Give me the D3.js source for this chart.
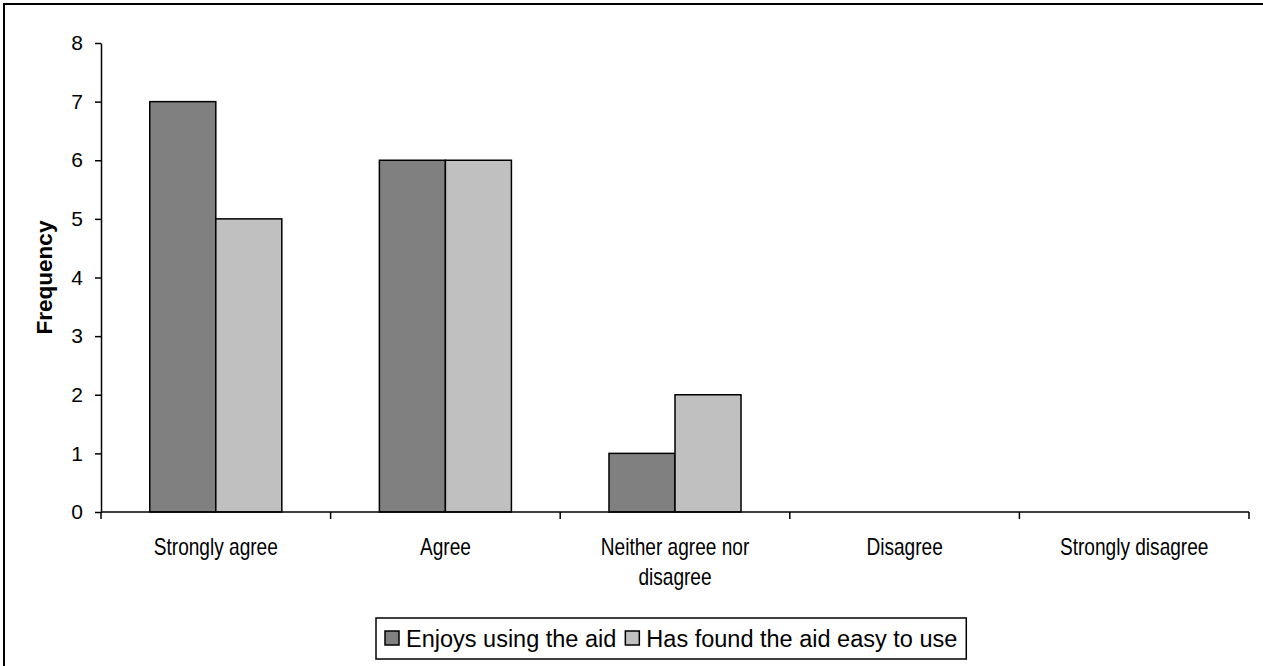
<!DOCTYPE html>
<html>
<head>
<meta charset="utf-8">
<script src="https://cdn.jsdelivr.net/npm/d3@7"></script>
<style>
  html, body { margin: 0; padding: 0; background: #fff; }
  svg { display: block; font-family: Arial, "Liberation Sans", sans-serif; }
</style>
</head>
<body>
<svg id="chart" width="1263" height="666"></svg>
<script>
const categories = ["Strongly agree", "Agree", "Neither agree nor disagree", "Disagree", "Strongly disagree"];
const categoryLines = [["Strongly agree"], ["Agree"], ["Neither agree nor", "disagree"], ["Disagree"], ["Strongly disagree"]];
const seriesNames = ["Enjoys using the aid", "Has found the aid easy to use"];
const enjoys = [7, 6, 1, 0, 0];
const easy = [5, 6, 2, 0, 0];
const yTicks = [0, 1, 2, 3, 4, 5, 6, 7, 8];
const seriesColors = ["#808080", "#C0C0C0"];

const svg = d3.select("#chart");

// outer frame (right/bottom edges fall outside the picture)
svg.append("rect").attr("x", 4).attr("y", 4).attr("width", 1320).attr("height", 720)
  .attr("fill", "none").attr("stroke", "#000").attr("stroke-width", 2);

const plotLeft = 101, plotRight = 1249, plotTop = 43, plotBottom = 512;

const x = d3.scaleBand().domain(categories).range([plotLeft, plotRight]).padding(0);
const x1 = d3.scaleBand().domain(seriesNames).range([0, x.bandwidth()]).paddingInner(0).paddingOuter(0.739);
const y = d3.scaleLinear().domain([0, 8]).range([plotBottom, plotTop]);

const values = [enjoys, easy];

// bars
seriesNames.forEach((s, si) => {
  svg.append("g").selectAll("rect")
    .data(categories.map((c, i) => ({ c, v: values[si][i] })).filter(d => d.v > 0))
    .join("rect")
    .attr("x", d => x(d.c) + x1(s))
    .attr("y", d => y(d.v))
    .attr("width", x1.bandwidth())
    .attr("height", d => y(0) - y(d.v))
    .attr("fill", seriesColors[si])
    .attr("stroke", "#000")
    .attr("stroke-width", 1.5);
});

// y axis
const yAxis = svg.append("g").attr("transform", `translate(${plotLeft},0)`)
  .call(d3.axisLeft(y).tickValues(yTicks).tickSize(6).tickSizeOuter(0).tickPadding(12).tickFormat(d3.format("d")));
yAxis.select(".domain").attr("stroke", "#000").attr("stroke-width", 1.5);
yAxis.selectAll(".tick line").attr("stroke", "#000").attr("stroke-width", 1.5);
yAxis.selectAll(".tick text").attr("font-size", 21).attr("fill", "#000")
  .attr("font-family", "Arial, 'Liberation Sans', sans-serif");

// x axis line and boundary ticks
const boundaries = categories.map(c => x(c)).concat([x(categories[categories.length - 1]) + x.bandwidth()]);
svg.append("line").attr("x1", plotLeft).attr("x2", plotRight).attr("y1", y(0)).attr("y2", y(0))
  .attr("stroke", "#000").attr("stroke-width", 1.5);
svg.append("g").selectAll("line").data(boundaries).join("line")
  .attr("x1", d => d).attr("x2", d => d).attr("y1", y(0)).attr("y2", y(0) + 7)
  .attr("stroke", "#000").attr("stroke-width", 1.5);

// x labels (narrow appearance)
const xl = svg.append("g").selectAll("g").data(categories).join("g")
  .attr("transform", d => `translate(${x(d) + x.bandwidth() / 2},555) scale(0.83,1)`);
xl.each(function (d, i) {
  d3.select(this).selectAll("text").data(categoryLines[i]).join("text")
    .attr("x", 0).attr("y", (t, j) => j * 30)
    .attr("text-anchor", "middle").attr("font-size", 23).attr("fill", "#000")
    .text(t => t);
});

// y title
svg.append("text")
  .attr("transform", `translate(52,${(plotTop + plotBottom) / 2}) rotate(-90)`)
  .attr("text-anchor", "middle").attr("font-size", 22.5).attr("font-weight", "bold")
  .attr("fill", "#000").text("Frequency");

// legend
const legend = svg.append("g");
let cx = 385;
const items = legend.selectAll("g").data(seriesNames).join("g");
items.each(function (s, i) {
  const g = d3.select(this);
  g.append("rect").attr("x", cx).attr("y", 631).attr("width", 14).attr("height", 14)
    .attr("fill", seriesColors[i]).attr("stroke", "#000").attr("stroke-width", 1.5);
  const t = g.append("text").attr("x", cx + 21).attr("y", 647).attr("font-size", 23.5)
    .attr("fill", "#000").text(s);
  const w = t.node().getComputedTextLength();
  cx = cx + 21 + w + 9;
});
const legendRight = cx;
legend.insert("rect", ":first-child").attr("x", 376).attr("y", 618)
  .attr("width", legendRight - 376).attr("height", 41)
  .attr("fill", "#fff").attr("stroke", "#000").attr("stroke-width", 1.5);
</script>
</body>
</html>
